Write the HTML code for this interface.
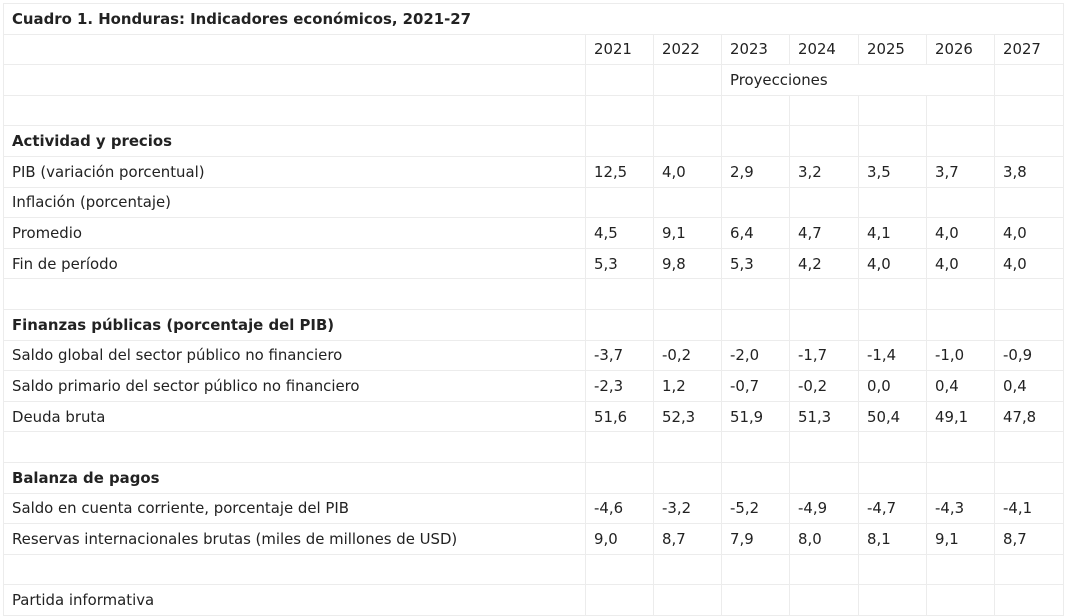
<!DOCTYPE html>
<html><head><meta charset="utf-8"><style>
html,body{margin:0;padding:0;background:#fff;width:1068px;height:596px;overflow:hidden}
table{position:absolute;left:3px;top:3px;border-collapse:collapse;table-layout:fixed;width:1060px;font-family:"DejaVu Sans","Liberation Sans",sans-serif;font-size:14.9px;color:#222}
td{border:1px solid #ececec;height:29.6px;padding:0 0 0 8px;white-space:nowrap;overflow:hidden}
.b{font-weight:bold}
</style></head><body>
<table>
<colgroup><col style="width:582px"><col style="width:68px"><col style="width:68px"><col style="width:68px"><col style="width:69px"><col style="width:68px"><col style="width:68px"><col style="width:69px"></colgroup>
<tr><td colspan="8" class="b">Cuadro 1. Honduras: Indicadores económicos, 2021-27</td></tr>
<tr><td></td><td>2021</td><td>2022</td><td>2023</td><td>2024</td><td>2025</td><td>2026</td><td>2027</td></tr>
<tr><td></td><td></td><td></td><td colspan="4">Proyecciones</td><td></td></tr>
<tr><td></td><td></td><td></td><td></td><td></td><td></td><td></td><td></td></tr>
<tr><td class="b">Actividad y precios</td><td></td><td></td><td></td><td></td><td></td><td></td><td></td></tr>
<tr><td>PIB (variación porcentual)</td><td>12,5</td><td>4,0</td><td>2,9</td><td>3,2</td><td>3,5</td><td>3,7</td><td>3,8</td></tr>
<tr><td>Inflación (porcentaje)</td><td></td><td></td><td></td><td></td><td></td><td></td><td></td></tr>
<tr><td>Promedio</td><td>4,5</td><td>9,1</td><td>6,4</td><td>4,7</td><td>4,1</td><td>4,0</td><td>4,0</td></tr>
<tr><td>Fin de período</td><td>5,3</td><td>9,8</td><td>5,3</td><td>4,2</td><td>4,0</td><td>4,0</td><td>4,0</td></tr>
<tr><td></td><td></td><td></td><td></td><td></td><td></td><td></td><td></td></tr>
<tr><td class="b">Finanzas públicas (porcentaje del PIB)</td><td></td><td></td><td></td><td></td><td></td><td></td><td></td></tr>
<tr><td>Saldo global del sector público no financiero</td><td>-3,7</td><td>-0,2</td><td>-2,0</td><td>-1,7</td><td>-1,4</td><td>-1,0</td><td>-0,9</td></tr>
<tr><td>Saldo primario del sector público no financiero</td><td>-2,3</td><td>1,2</td><td>-0,7</td><td>-0,2</td><td>0,0</td><td>0,4</td><td>0,4</td></tr>
<tr><td>Deuda bruta</td><td>51,6</td><td>52,3</td><td>51,9</td><td>51,3</td><td>50,4</td><td>49,1</td><td>47,8</td></tr>
<tr><td></td><td></td><td></td><td></td><td></td><td></td><td></td><td></td></tr>
<tr><td class="b">Balanza de pagos</td><td></td><td></td><td></td><td></td><td></td><td></td><td></td></tr>
<tr><td>Saldo en cuenta corriente, porcentaje del PIB</td><td>-4,6</td><td>-3,2</td><td>-5,2</td><td>-4,9</td><td>-4,7</td><td>-4,3</td><td>-4,1</td></tr>
<tr><td>Reservas internacionales brutas (miles de millones de USD)</td><td>9,0</td><td>8,7</td><td>7,9</td><td>8,0</td><td>8,1</td><td>9,1</td><td>8,7</td></tr>
<tr><td></td><td></td><td></td><td></td><td></td><td></td><td></td><td></td></tr>
<tr><td>Partida informativa</td><td></td><td></td><td></td><td></td><td></td><td></td><td></td></tr>
</table>
</body></html>
